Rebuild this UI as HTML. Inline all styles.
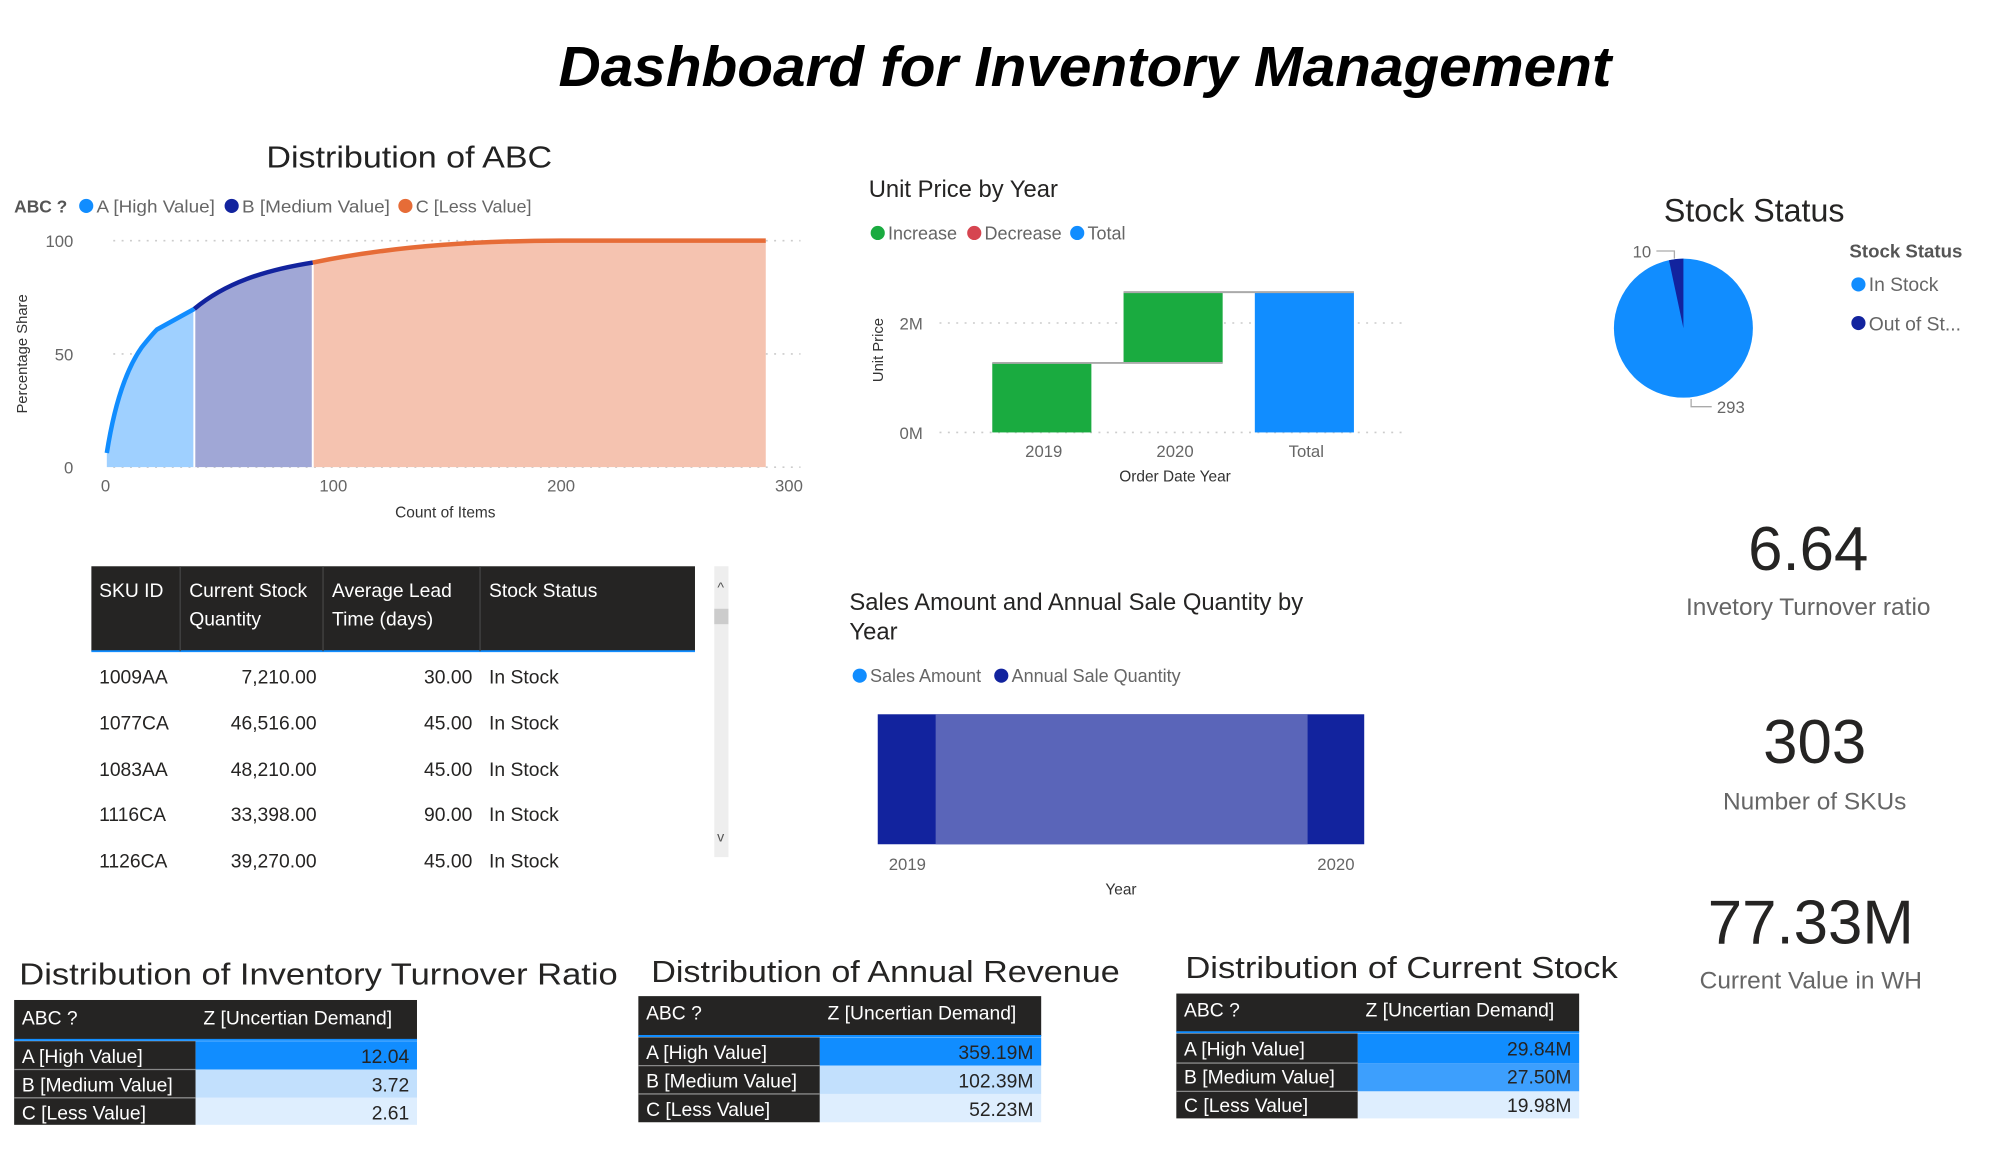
<!DOCTYPE html>
<html><head><meta charset="utf-8"><style>
html,body{margin:0;padding:0;background:#fff;width:2000px;height:1157px;overflow:hidden}
svg{display:block}
text{font-family:"Liberation Sans",sans-serif}
</style></head><body>
<svg width="2000" height="1157" viewBox="0 0 1554 899" preserveAspectRatio="none" xmlns="http://www.w3.org/2000/svg">
<rect width="1554" height="899" fill="#fff"/>
<text x="843" y="67" text-anchor="middle" font-size="44" font-weight="bold" font-style="italic" fill="#000" textLength="818" lengthAdjust="spacingAndGlyphs">Dashboard for Inventory Management</text>

<!-- ABC chart -->
<text x="318" y="130" text-anchor="middle" font-size="24" fill="#222" textLength="222" lengthAdjust="spacingAndGlyphs">Distribution of ABC</text>
<g font-size="13.5" fill="#666">
<text x="11" y="165" font-weight="bold" fill="#555">ABC ?</text>
<circle cx="67" cy="160" r="5.5" fill="#118dff"/><text x="75" y="165" textLength="92" lengthAdjust="spacingAndGlyphs">A [High Value]</text>
<circle cx="180" cy="160" r="5.5" fill="#12239e"/><text x="188" y="165" textLength="115" lengthAdjust="spacingAndGlyphs">B [Medium Value]</text>
<circle cx="315" cy="160" r="5.5" fill="#e66c37"/><text x="323" y="165" textLength="90" lengthAdjust="spacingAndGlyphs">C [Less Value]</text>
</g>
<g stroke="#ccc" stroke-dasharray="1.5 5" stroke-width="1.2">
<line x1="88" y1="187" x2="622" y2="187"/><line x1="88" y1="275" x2="622" y2="275"/><line x1="88" y1="363" x2="622" y2="363"/>
</g>
<path d="M83,352 C88,320 96,290 110,270 C118,260 122,256 122,256 L151,240 L151,363 L83,363Z" fill="#9fd0ff"/>
<path d="M151,240 C175,220 205,210 243,204 L243,363 L151,363Z" fill="#a0a7d6"/>
<path d="M243,204 C320,188 400,187 436,187 L595,187 L595,363 L243,363Z" fill="#f5c3b0"/>
<line x1="151" y1="240" x2="151" y2="363" stroke="#fff" stroke-width="1.5"/>
<line x1="243" y1="204" x2="243" y2="363" stroke="#fff" stroke-width="1.5"/>
<path d="M83,352 C88,320 96,290 110,270 C118,260 122,256 122,256 L151,240" fill="none" stroke="#118dff" stroke-width="3.5"/>
<path d="M151,240 C175,220 205,210 243,204" fill="none" stroke="#12239e" stroke-width="3.5"/>
<path d="M243,204 C320,188 400,187 436,187 L595,187" fill="none" stroke="#e66c37" stroke-width="3.5"/>
<g font-size="13" fill="#666">
<text x="57" y="192" text-anchor="end">100</text><text x="57" y="280" text-anchor="end">50</text><text x="57" y="368" text-anchor="end">0</text>
<text x="82" y="382" text-anchor="middle">0</text><text x="259" y="382" text-anchor="middle">100</text><text x="436" y="382" text-anchor="middle">200</text><text x="613" y="382" text-anchor="middle">300</text>
</g>
<text x="346" y="402" text-anchor="middle" font-size="12" fill="#333">Count of Items</text>
<text transform="translate(21,275) rotate(-90)" text-anchor="middle" font-size="11.5" fill="#333">Percentage Share</text>

<!-- SKU table -->
<rect x="71" y="440" width="469" height="66" fill="#252423"/>
<line x1="71" y1="506" x2="540" y2="506" stroke="#118dff" stroke-width="1.5"/>
<g stroke="#444"><line x1="140" y1="440" x2="140" y2="506"/><line x1="251" y1="440" x2="251" y2="506"/><line x1="373" y1="440" x2="373" y2="506"/></g>
<g font-size="15" fill="#fff">
<text x="77" y="464">SKU ID</text><text x="147" y="464">Current Stock</text><text x="147" y="486">Quantity</text>
<text x="258" y="464">Average Lead</text><text x="258" y="486">Time (days)</text><text x="380" y="464">Stock Status</text>
</g>
<g font-size="15" fill="#252423">
<text x="77" y="531">1009AA</text><text x="246" y="531" text-anchor="end">7,210.00</text><text x="367" y="531" text-anchor="end">30.00</text><text x="380" y="531">In Stock</text>
<text x="77" y="567">1077CA</text><text x="246" y="567" text-anchor="end">46,516.00</text><text x="367" y="567" text-anchor="end">45.00</text><text x="380" y="567">In Stock</text>
<text x="77" y="603">1083AA</text><text x="246" y="603" text-anchor="end">48,210.00</text><text x="367" y="603" text-anchor="end">45.00</text><text x="380" y="603">In Stock</text>
<text x="77" y="638">1116CA</text><text x="246" y="638" text-anchor="end">33,398.00</text><text x="367" y="638" text-anchor="end">90.00</text><text x="380" y="638">In Stock</text>
<text x="77" y="674">1126CA</text><text x="246" y="674" text-anchor="end">39,270.00</text><text x="367" y="674" text-anchor="end">45.00</text><text x="380" y="674">In Stock</text>
</g>
<rect x="555" y="440" width="11" height="226" fill="#eee"/>
<rect x="555" y="473" width="11" height="12" fill="#ccc"/>
<text x="560" y="460" text-anchor="middle" font-size="11" fill="#555">^</text>
<text x="560" y="654" text-anchor="middle" font-size="11" fill="#555">v</text>

<!-- Unit price waterfall -->
<text x="675" y="153" font-size="18.5" fill="#252423">Unit Price by Year</text>
<g font-size="14" fill="#666">
<circle cx="682" cy="181" r="5.5" fill="#1aab40"/><text x="690" y="186">Increase</text>
<circle cx="757" cy="181" r="5.5" fill="#d64550"/><text x="765" y="186">Decrease</text>
<circle cx="837" cy="181" r="5.5" fill="#118dff"/><text x="845" y="186">Total</text>
</g>
<g stroke="#ccc" stroke-dasharray="1.5 5" stroke-width="1.2"><line x1="730" y1="251" x2="1092" y2="251"/><line x1="730" y1="336" x2="1092" y2="336"/></g>
<rect x="771" y="282" width="77" height="54" fill="#1aab40"/>
<rect x="873" y="227" width="77" height="55" fill="#1aab40"/>
<rect x="975" y="227" width="77" height="109" fill="#118dff"/>
<g stroke="#aaa" stroke-width="1.5"><line x1="771" y1="282" x2="950" y2="282"/><line x1="873" y1="227" x2="1052" y2="227"/></g>
<g font-size="13" fill="#666">
<text x="717" y="256" text-anchor="end">2M</text><text x="717" y="341" text-anchor="end">0M</text>
<text x="811" y="355" text-anchor="middle">2019</text><text x="913" y="355" text-anchor="middle">2020</text><text x="1015" y="355" text-anchor="middle">Total</text>
</g>
<text x="913" y="374" text-anchor="middle" font-size="12" fill="#333">Order Date Year</text>
<text transform="translate(686,272) rotate(-90)" text-anchor="middle" font-size="11.5" fill="#333">Unit Price</text>

<!-- Stock status pie -->
<text x="1363" y="172" text-anchor="middle" font-size="25" fill="#252423">Stock Status</text>
<circle cx="1308" cy="255" r="54" fill="#118dff"/>
<path d="M1308,255 L1296.8,202.2 A54,54 0 0 1 1308,201 Z" fill="#12239e"/>
<g font-size="13" fill="#666"><text x="1283" y="200" text-anchor="end">10</text><text x="1334" y="321">293</text></g>
<path d="M1287,195 L1301,195 L1301,201" fill="none" stroke="#aaa"/>
<path d="M1314,310 L1314,316 L1330,316" fill="none" stroke="#aaa"/>
<text x="1437" y="200" font-size="14.5" font-weight="bold" fill="#555">Stock Status</text>
<circle cx="1444" cy="221" r="5.5" fill="#118dff"/><text x="1452" y="226" font-size="15" fill="#666">In Stock</text>
<circle cx="1444" cy="251" r="5.5" fill="#12239e"/><text x="1452" y="257" font-size="15" fill="#666">Out of St...</text>

<!-- KPIs -->
<text x="1405" y="443" text-anchor="middle" font-size="48" fill="#252423">6.64</text>
<text x="1405" y="478" text-anchor="middle" font-size="19" fill="#666">Invetory Turnover ratio</text>
<text x="1410" y="593" text-anchor="middle" font-size="48" fill="#252423">303</text>
<text x="1410" y="629" text-anchor="middle" font-size="19" fill="#666">Number of SKUs</text>
<text x="1407" y="733" text-anchor="middle" font-size="48" fill="#252423">77.33M</text>
<text x="1407" y="768" text-anchor="middle" font-size="19" fill="#666">Current Value in WH</text>

<!-- Sales chart -->
<text x="660" y="474" font-size="18.5" fill="#252423">Sales Amount and Annual Sale Quantity by</text>
<text x="660" y="497" font-size="18.5" fill="#252423">Year</text>
<g font-size="14" fill="#666">
<circle cx="668" cy="525" r="5.5" fill="#118dff"/><text x="676" y="530">Sales Amount</text>
<circle cx="778" cy="525" r="5.5" fill="#12239e"/><text x="786" y="530">Annual Sale Quantity</text>
</g>
<rect x="682" y="555" width="378" height="101" fill="#12239e"/>
<rect x="727" y="555" width="289" height="101" fill="#5a65b9"/>
<g font-size="13" fill="#666"><text x="705" y="676" text-anchor="middle">2019</text><text x="1038" y="676" text-anchor="middle">2020</text></g>
<text x="871" y="695" text-anchor="middle" font-size="12" fill="#333">Year</text>

<!-- Bottom tables -->
<g font-size="15">
<text x="15" y="765" font-size="24" fill="#252423" textLength="465" lengthAdjust="spacingAndGlyphs">Distribution of Inventory Turnover Ratio</text>
<rect x="11" y="777" width="313" height="31" fill="#252423"/>
<line x1="11" y1="808" x2="324" y2="808" stroke="#118dff" stroke-width="1.5"/>
<text x="17" y="796" fill="#fff">ABC ?</text><text x="158" y="796" fill="#fff">Z [Uncertian Demand]</text>
<rect x="11" y="809" width="141" height="65" fill="#252423"/>
<rect x="152" y="809" width="172" height="22" fill="#118dff"/>
<rect x="152" y="831" width="172" height="22" fill="#c2e0fd"/>
<rect x="152" y="853" width="172" height="21" fill="#deeefe"/>
<g stroke="#888"><line x1="11" y1="831" x2="152" y2="831"/><line x1="11" y1="853" x2="152" y2="853"/></g>
<g fill="#fff"><text x="17" y="826">A [High Value]</text><text x="17" y="848">B [Medium Value]</text><text x="17" y="870">C [Less Value]</text></g>
<g fill="#252423" text-anchor="end"><text x="318" y="826">12.04</text><text x="318" y="848">3.72</text><text x="318" y="870">2.61</text></g>

<text x="506" y="763" font-size="24" fill="#252423" textLength="364" lengthAdjust="spacingAndGlyphs">Distribution of Annual Revenue</text>
<rect x="496" y="774" width="313" height="31" fill="#252423"/>
<line x1="496" y1="805" x2="809" y2="805" stroke="#118dff" stroke-width="1.5"/>
<text x="502" y="792" fill="#fff">ABC ?</text><text x="643" y="792" fill="#fff">Z [Uncertian Demand]</text>
<rect x="496" y="806" width="141" height="66" fill="#252423"/>
<rect x="637" y="806" width="172" height="22" fill="#118dff"/>
<rect x="637" y="828" width="172" height="22" fill="#c2e0fd"/>
<rect x="637" y="850" width="172" height="22" fill="#deeefe"/>
<g stroke="#888"><line x1="496" y1="828" x2="637" y2="828"/><line x1="496" y1="850" x2="637" y2="850"/></g>
<g fill="#fff"><text x="502" y="823">A [High Value]</text><text x="502" y="845">B [Medium Value]</text><text x="502" y="867">C [Less Value]</text></g>
<g fill="#252423" text-anchor="end"><text x="803" y="823">359.19M</text><text x="803" y="845">102.39M</text><text x="803" y="867">52.23M</text></g>

<text x="921" y="760" font-size="24" fill="#252423" textLength="336" lengthAdjust="spacingAndGlyphs">Distribution of Current Stock</text>
<rect x="914" y="772" width="313" height="30" fill="#252423"/>
<line x1="914" y1="802" x2="1227" y2="802" stroke="#118dff" stroke-width="1.5"/>
<text x="920" y="790" fill="#fff">ABC ?</text><text x="1061" y="790" fill="#fff">Z [Uncertian Demand]</text>
<rect x="914" y="803" width="141" height="66" fill="#252423"/>
<rect x="1055" y="803" width="172" height="23" fill="#118dff"/>
<rect x="1055" y="826" width="172" height="22" fill="#3d9ffd"/>
<rect x="1055" y="848" width="172" height="21" fill="#deeefe"/>
<g stroke="#888"><line x1="914" y1="826" x2="1055" y2="826"/><line x1="914" y1="848" x2="1055" y2="848"/></g>
<g fill="#fff"><text x="920" y="820">A [High Value]</text><text x="920" y="842">B [Medium Value]</text><text x="920" y="864">C [Less Value]</text></g>
<g fill="#252423" text-anchor="end"><text x="1221" y="820">29.84M</text><text x="1221" y="842">27.50M</text><text x="1221" y="864">19.98M</text></g>
</g>
</svg>
</body></html>
